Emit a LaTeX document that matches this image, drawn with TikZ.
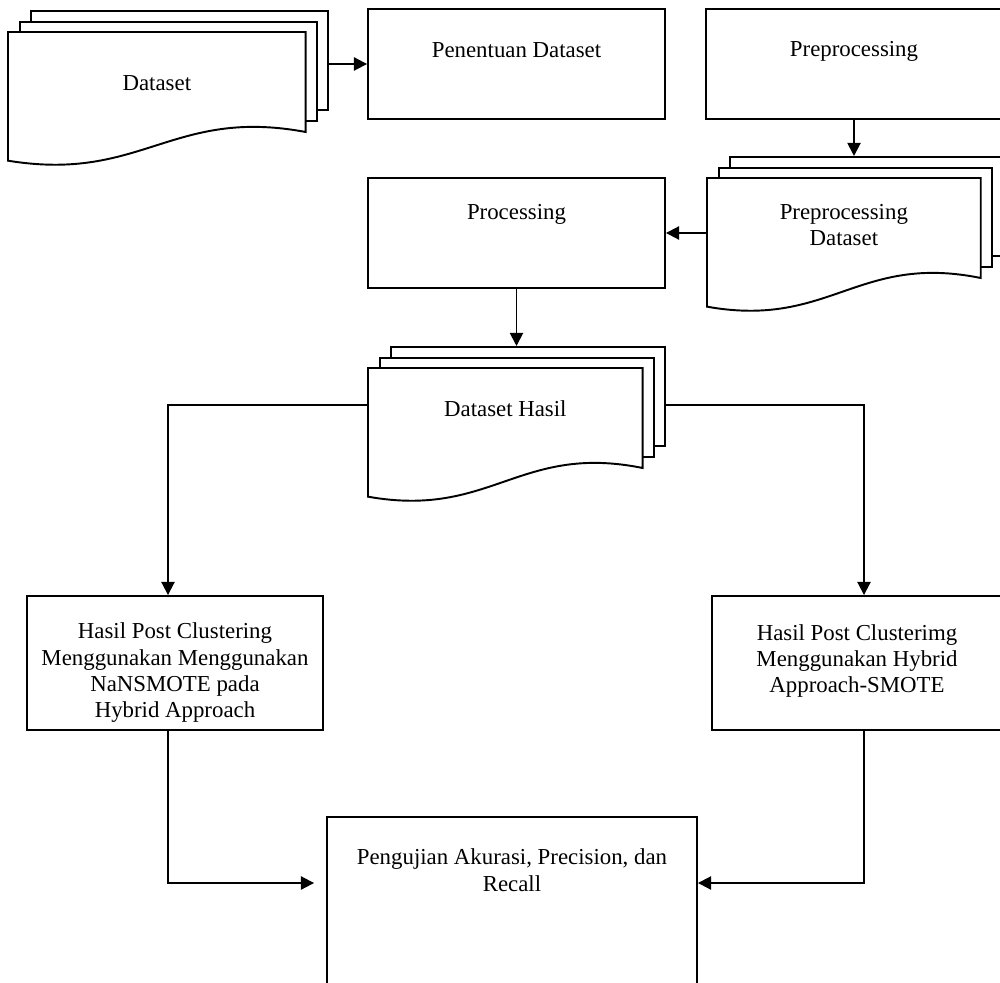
\documentclass[tikz,border=0pt]{standalone}
\usepackage{fontspec}
\setmainfont{Liberation Serif}
\usetikzlibrary{arrows.meta, positioning, calc}
\tikzset{
  process/.style={
    rectangle, draw, line width=1.1pt, fill=white, inner sep=0pt
  },
  page/.style={
    rectangle, draw, line width=1.1pt, fill=white, inner sep=0pt,
    anchor=north west, minimum height=1.98cm
  },
  docline/.style={draw, line width=1.1pt, fill=white},
  txt/.style={align=center, inner sep=0pt, font=\fontsize{13}{15}\selectfont},
  arrow/.style={line width=1.1pt, -{Triangle[length=7.5pt,width=7.5pt]}},
}

\begin{document}
\begin{tikzpicture}[x=0.02cm, y=-0.02cm]
  \clip (0,0) rectangle (1000,983);

  \foreach \nm/\x/\y/\w/\ty/\txt in {data/8/32/297/51/Dataset, ppd/707/178/273/47/{Preprocessing\\Dataset}, hasil/368/368/274/41/{Dataset Hasil}}{
    \node (\nm3) [page, minimum width=\w*0.02cm] at (\x+22,\y-22) {};
    \node (\nm2) [page, minimum width=\w*0.02cm] at (\x+11,\y-11) {};
    \node (\nm1) [anchor=north west, inner sep=0pt, minimum width=\w*0.02cm, minimum height=2.56cm] at (\x,\y) {};
    \draw [docline] (\nm1.north west) -- (\nm1.north east) -- ++(0,100)
      .. controls +(-0.45*\w,-25) and +(0.45*\w,22) .. (\nm1.south west) -- cycle;
    \node [txt] at ($(\nm1.north)+(0,\ty)$) {\txt};
  }

  \node (pendata) [process, minimum width=5.94cm, minimum height=2.2cm]  at (516.5,64) {};
  \node (prepro)  [process, minimum width=5.92cm, minimum height=2.2cm]  at (854,64)   {};
  \node (proc)    [process, minimum width=5.94cm, minimum height=2.2cm]  at (516.5,233) {};
  \node (hpleft)  [process, minimum width=5.92cm, minimum height=2.68cm] at (175,663)  {};
  \node (hpright) [process, minimum width=5.8cm,  minimum height=2.68cm] at (857,663)  {};
  \node (uji)     [process, minimum width=7.4cm,  minimum height=4cm]    at (512,917)  {};

  \node [txt] at ($(pendata.north)+(0,42)$) {Penentuan Dataset};
  \node [txt] at ($(prepro.north)+(0,43)$)  {Preprocessing};
  \node [txt] at ($(proc.north)+(0,37)$)    {Processing};
  \node [txt] at ($(hpleft)+(0,10)$)  {Hasil Post Clustering\\Menggunakan Menggunakan\\NaNSMOTE pada\\Hybrid Approach};
  \node [txt] at ($(hpright)+(0,-2)$) {Hasil Post Clusterimg\\Menggunakan Hybrid\\Approach-SMOTE};
  \node [txt] at ($(uji.north)+(0,54)$)     {Pengujian Akurasi, Precision, dan\\Recall};

  \coordinate (lsplit) at (168,405);
  \coordinate (rsplit) at (864,405);
  \coordinate (lturn)  at (168,883);
  \coordinate (rturn)  at (864,883);

  \draw [arrow] (data3.east |- pendata) -- (pendata.west);
  \draw [arrow] (prepro.south) -- (prepro.south |- ppd3.north);
  \draw [arrow] (ppd1.west |- proc) -- (proc.east);
  \draw [arrow] (proc.south) -- (proc.south |- hasil3.north);
  \draw [arrow] (hasil1.west |- lsplit) -| (hpleft.north -| lsplit);
  \draw [arrow] (hasil3.east |- rsplit) -| (hpright.north -| rsplit);
  \draw [arrow] (hpleft.south -| lturn) |- ($(uji.west |- lturn)+(-12,0)$);
  \draw [arrow] (hpright.south -| rturn) |- (uji.east |- rturn);
\end{tikzpicture}
\end{document}
